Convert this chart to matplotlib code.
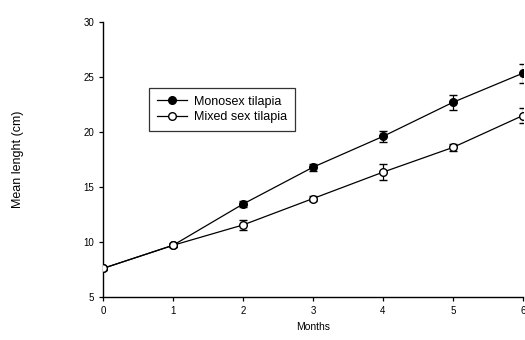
import matplotlib
matplotlib.use("Agg")
import matplotlib.pyplot as plt

# ─── Data ─────────────────────────────────────────────────────────────────────
months = [0, 1, 2, 3, 4, 5, 6]
monosex = [7.6, 9.7, 13.45, 16.8, 19.6, 22.7, 25.35]
monosex_err = [0.1, 0.15, 0.25, 0.3, 0.5, 0.7, 0.85]
mixed = [7.6, 9.7, 11.55, 13.95, 16.35, 18.6, 21.5]
mixed_err = [0.1, 0.15, 0.45, 0.25, 0.75, 0.3, 0.7]

plt.rcParams["font.family"] = ["Liberation Sans", "DejaVu Sans"]

fig = plt.figure(figsize=(5.25, 3.4), dpi=100)
ax = fig.add_axes([103 / 525, 43 / 340, 420 / 525, 275 / 340])

mono = ax.errorbar(months, monosex, yerr=monosex_err, color="black", linewidth=0.9,
                   marker="o", markersize=5.5, markerfacecolor="black",
                   markeredgecolor="black", elinewidth=0.9, capsize=3, zorder=3)
mix = ax.errorbar(months, mixed, yerr=mixed_err, color="black", linewidth=0.9,
                  marker="o", markersize=5.5, markerfacecolor="white",
                  markeredgecolor="black", elinewidth=0.9, capsize=3, zorder=4)

ax.set_xlim(0, 6)
ax.set_ylim(5, 30)
ax.set_xticks(months)
ax.set_yticks([5, 10, 15, 20, 25, 30])
ax.tick_params(labelsize=7, length=3, width=0.9, direction="out")
for side in ("top", "right"):
    ax.spines[side].set_visible(False)
for side in ("left", "bottom"):
    ax.spines[side].set_linewidth(1.0)
    ax.spines[side].set_clip_on(False)

ax.set_xlabel("Months", fontsize=7.5)
ax.set_ylabel("Mean lenght (cm)", fontsize=9, labelpad=43)

# legend shows only the line + marker, no error bars
leg = ax.legend([mono.lines[0], mix.lines[0]],
                ["Monosex tilapia", "Mixed sex tilapia"],
                loc="upper left", bbox_to_anchor=(46 / 420, 1 - 66 / 275),
                fontsize=9, frameon=True, fancybox=False, edgecolor="black",
                handlelength=2.4, handletextpad=0.6, borderpad=0.6,
                labelspacing=0.3, borderaxespad=0)
leg.get_frame().set_linewidth(0.9)

fig.savefig("out.png", dpi=100)
